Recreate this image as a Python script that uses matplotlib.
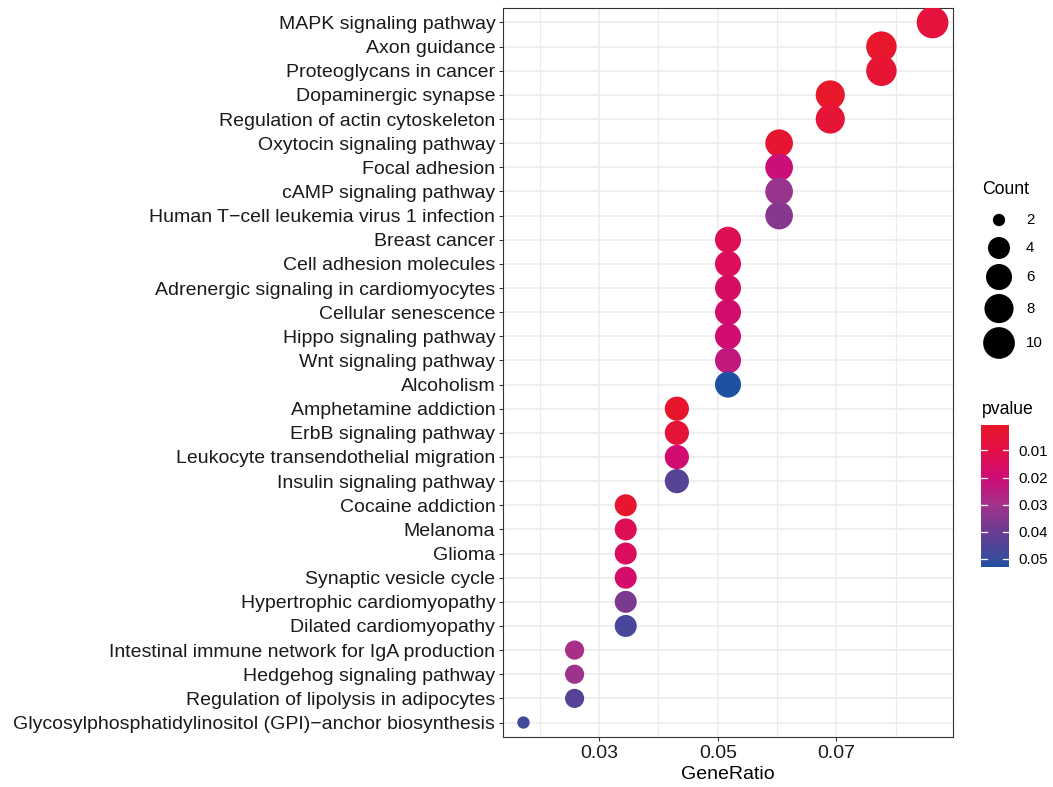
import numpy as np
import matplotlib
matplotlib.use("Agg")
import matplotlib.pyplot as plt
from matplotlib.colors import LinearSegmentedColormap, Normalize
from matplotlib.cm import ScalarMappable

plt.rcParams['font.family'] = ['Liberation Sans', 'DejaVu Sans']

# ---------------- data (top to bottom) ----------------
pathways = [
    "MAPK signaling pathway",
    "Axon guidance",
    "Proteoglycans in cancer",
    "Dopaminergic synapse",
    "Regulation of actin cytoskeleton",
    "Oxytocin signaling pathway",
    "Focal adhesion",
    "cAMP signaling pathway",
    "Human T\u2212cell leukemia virus 1 infection",
    "Breast cancer",
    "Cell adhesion molecules",
    "Adrenergic signaling in cardiomyocytes",
    "Cellular senescence",
    "Hippo signaling pathway",
    "Wnt signaling pathway",
    "Alcoholism",
    "Amphetamine addiction",
    "ErbB signaling pathway",
    "Leukocyte transendothelial migration",
    "Insulin signaling pathway",
    "Cocaine addiction",
    "Melanoma",
    "Glioma",
    "Synaptic vesicle cycle",
    "Hypertrophic cardiomyopathy",
    "Dilated cardiomyopathy",
    "Intestinal immune network for IgA production",
    "Hedgehog signaling pathway",
    "Regulation of lipolysis in adipocytes",
    "Glycosylphosphatidylinositol (GPI)\u2212anchor biosynthesis",
]
counts = [10, 9, 9, 8, 8, 7, 7, 7, 7, 6, 6, 6, 6, 6, 6, 6,
          5, 5, 5, 5, 4, 4, 4, 4, 4, 4, 3, 3, 3, 2]
pvalues = [0.007, 0.0012, 0.004, 0.0006, 0.0045, 0.0025, 0.021, 0.032, 0.035,
           0.013, 0.014, 0.016, 0.018, 0.019, 0.023, 0.053,
           0.0015, 0.005, 0.019, 0.044,
           0.002, 0.013, 0.015, 0.017, 0.037, 0.047,
           0.029, 0.031, 0.044, 0.048]
total_genes = 116
gene_ratio = np.array(counts) / total_genes

x_ticks = [0.03, 0.05, 0.07]
x_minor = [0.02, 0.04, 0.06, 0.08]
size_breaks = [2, 4, 6, 8, 10]
p_breaks = [0.01, 0.02, 0.03, 0.04, 0.05]

# ---------------- styles ----------------
W, H, DPI = 1053, 787, 100
PT = 72.0 / DPI  # points per pixel

cmin, cmax = min(counts), max(counts)
def diam_px(c):
    c = np.asarray(c, dtype=float)
    return 3.875 * (3 + 5 * np.sqrt((c - cmin) / (cmax - cmin))) + 0.7

def size_s(c):
    return (diam_px(c) * PT) ** 2

pmin, pmax = min(pvalues), max(pvalues)
norm = Normalize(vmin=pmin, vmax=pmax)
anchor_p = [pmin, 0.01, 0.02, 0.03, 0.04, 0.05, pmax]
anchor_c = ["#E8172A", "#E40F48", "#CF0B77", "#A4328A", "#6A3C92", "#394C9C", "#2050A0"]
cmap = LinearSegmentedColormap.from_list(
    "pv", [(float(norm(p)), c) for p, c in zip(anchor_p, anchor_c)])

fig = plt.figure(figsize=(W / DPI, H / DPI), dpi=DPI)
ax = fig.add_axes([503 / W, 1 - 737 / H, 450 / W, 729 / H])

n = len(pathways)
ypos = np.arange(n, 0, -1)

ax.set_axisbelow(True)
ax.scatter(gene_ratio, ypos, s=size_s(counts), c=[cmap(norm(p)) for p in pvalues],
           linewidths=0, zorder=3)

span = gene_ratio.max() - gene_ratio.min()
ax.set_xlim(gene_ratio.min() - 0.05 * span, gene_ratio.max() + 0.05 * span)
ax.set_ylim(0.4, n + 0.6)
ax.set_yticks(ypos)
ax.set_yticklabels(pathways)
ax.set_xticks(x_ticks)
ax.set_xticklabels([f"{t:.2f}" for t in x_ticks])
ax.set_xticks(x_minor, minor=True)
ax.grid(which='major', color='#EBEBEB', linewidth=1.1)
ax.grid(which='minor', axis='x', color='#EBEBEB', linewidth=0.8)
ax.tick_params(axis='both', which='major', length=3.0, width=0.8, color='#333333',
               labelsize=14, labelcolor='#1A1A1A', pad=2.5)
ax.tick_params(axis='x', which='minor', length=0)
for sp in ax.spines.values():
    sp.set_color('#333333')
    sp.set_linewidth(0.8)
ax.set_xlabel("GeneRatio", fontsize=14, color='black', labelpad=3)

# ---------------- size legend ----------------
lax = fig.add_axes([0, 0, 1, 1])
lax.set_xlim(0, W)
lax.set_ylim(H, 0)
lax.axis('off')
lax.text(982, 189, "Count", fontsize=12.7, va='center', ha='left')
heights = np.maximum(diam_px(size_breaks) + 4, 28)
tops = 206 + np.concatenate([[0], np.cumsum(heights)[:-1]])
centers = tops + heights / 2
lax.scatter([999] * len(size_breaks), centers, s=size_s(size_breaks), c='black',
            linewidths=0)
for b, yc in zip(size_breaks, centers):
    lax.text(1026, yc, str(b), fontsize=10.8, va='center', ha='left')

# ---------------- colour legend ----------------
lax.text(982, 409, "pvalue", fontsize=12.7, va='center', ha='left')
cax = fig.add_axes([981 / W, 1 - 567 / H, 28 / W, 142 / H])
cb = fig.colorbar(ScalarMappable(norm=norm, cmap=cmap), cax=cax)
cb.outline.set_visible(False)
cax.invert_yaxis()
cb.set_ticks(p_breaks)
cb.set_ticklabels([f"{t:.2f}" for t in p_breaks])
cax.tick_params(length=0, labelsize=10.8, pad=6.5)
for t in p_breaks:
    cax.axhline(t, xmin=0, xmax=0.2, color='white', linewidth=0.9)
    cax.axhline(t, xmin=0.8, xmax=1, color='white', linewidth=0.9)

fig.savefig("out.png", dpi=DPI)
